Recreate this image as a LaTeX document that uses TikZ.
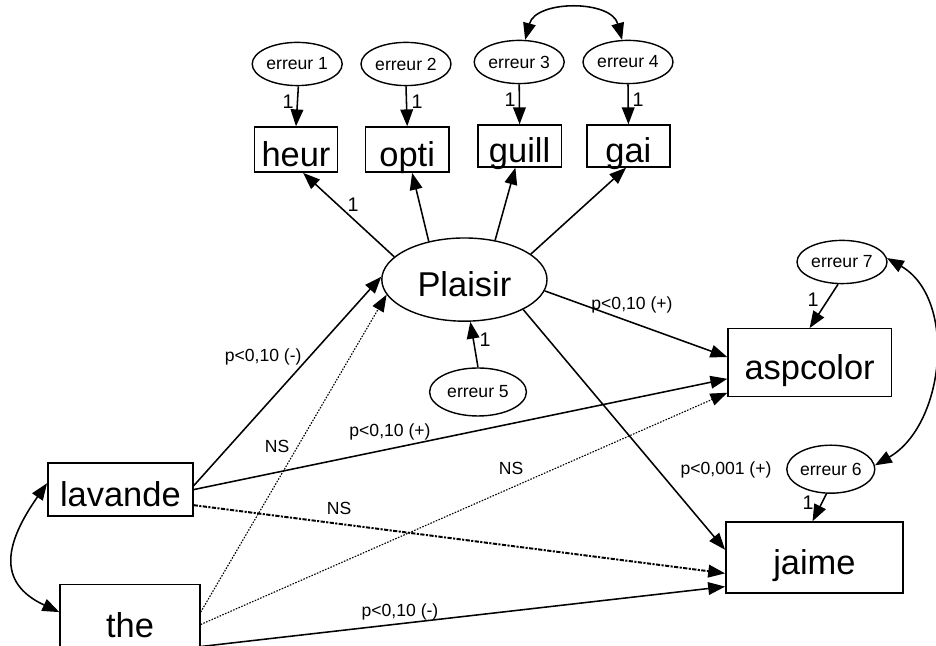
\documentclass[tikz,border=0pt]{standalone}
\usepackage{fontspec}
\setmainfont{Liberation Sans}
\usetikzlibrary{arrows.meta,shapes.geometric}

\begin{document}
\begin{tikzpicture}[
  obs/.style={draw, line width=1pt, inner sep=0pt, text height=24pt, text depth=0pt, font=\fontsize{24.5}{28}\selectfont},
  err/.style={draw, ellipse, line width=1pt, inner sep=0pt, minimum width=2.25cm, minimum height=1.08cm, font=\fontsize{12.5}{14}\selectfont},
  path/.style={line width=1.1pt, -{Triangle[length=12pt,width=9pt]}},
  ns/.style={path, densely dotted, line width=0.8pt},
  nsb/.style={path, dash pattern=on 3pt off 1pt on 1.5pt off 1pt, line width=1.4pt},
  cov/.style={line width=1.1pt, {Triangle[length=12pt,width=9pt]}-{Triangle[length=12pt,width=9pt]}},
  lbl/.style={font=\fontsize{12.5}{14}\selectfont},
  one/.style={font=\fontsize{14}{16}\selectfont}
]
%\draw[step=1cm,gray,very thin] (0,0) grid (23.4,16.15);
\useasboundingbox (0,0) rectangle (23.4,16.15);
\clip (0,0) rectangle (23.4,16.15);

% indicateurs de plaisir
\node[err] (err1) at (7.43,14.55) {erreur 1};
\node[err] (err2) at (10.15,14.55) {erreur 2};
\node[err] (err3) at (12.98,14.6) {erreur 3};
\node[err] (err4) at (15.7,14.6) {erreur 4};
\node[obs, minimum width=2.08cm, minimum height=1.13cm] (heur) at (7.4,12.41) {heur};
\node[obs, minimum width=2.08cm, minimum height=1.13cm] (opti) at (10.18,12.41) {opti};
\node[obs, minimum width=2.08cm, minimum height=1.05cm] (guill) at (12.99,12.5) {guill};
\node[obs, minimum width=2.08cm, minimum height=1.05cm] (gai) at (15.71,12.5) {gai};

\node[obs, ellipse, minimum width=4.13cm, minimum height=2.08cm] (plaisir) at (11.61,9.16) {Plaisir};
\node[err, minimum width=2.42cm, minimum height=1.2cm] (err5) at (11.95,6.35) {erreur 5};

% variables dependantes
\node[err] (err7) at (21.05,9.6) {erreur 7};
\node[obs, minimum width=4.08cm, minimum height=1.7cm] (aspcolor) at (20.24,7.08) {aspcolor};
\node[err, minimum width=2.2cm, minimum height=1.2cm] (err6) at (20.77,4.42) {erreur 6};
\node[obs, minimum width=4.43cm, minimum height=1.78cm] (jaime) at (20.36,2.21) {jaime};

% variables independantes
\node[obs, minimum width=3.63cm, minimum height=1.33cm] (lavande) at (3.01,3.91) {lavande};
\node[obs, minimum width=3.5cm, minimum height=1.8cm] (the) at (3.25,0.63) {the};

% erreurs
\draw[path] (err1.-87) -- (heur.north);
\draw[path] (err2.south) -- (opti.north);
\draw[path] (err3.south) -- (guill.north);
\draw[path] (err4.south) -- (gai.north);
\draw[path] (err5.north) -- (plaisir.-82);
\draw[path] (err7.-100) -- (aspcolor.north);
\draw[path] (err6.-100) -- (jaime.93);
\node[one] (u1) at (7.2,13.6) {1};
\node[one] (u2) at (10.43,13.6) {1};
\node[one] (u3) at (12.75,13.65) {1};
\node[one] (u4) at (15.95,13.65) {1};
\node[one] (u5) at (12.13,7.65) {1};
\node[one] (u7) at (20.33,8.65) {1};
\node[one] (u6) at (20.2,3.58) {1};

% mesure
\draw[path] (plaisir.162) -- (heur.-73);
\draw[path] (plaisir.133) -- (opti.-78);
\draw[path] (plaisir.52) -- (guill.-101);
\draw[path] (plaisir.21) -- (gai.-96);
\node[one] (u0) at (8.83,11.03) {1};

% effets
\draw[path] (plaisir.-8) -- (aspcolor.176);
\draw[path] (plaisir.-27) -- (jaime.175);
\draw[path] (lavande.3) -- (plaisir.178);
\draw[ns] (the.7) -- (plaisir.191);
\draw[path] (lavande.0) -- (aspcolor.191);
\draw[nsb] (lavande.-12) -- (jaime.190);
\draw[ns] (the.-3) -- (aspcolor.200);
\draw[path] (the.-20) -- (jaime.198);

\node[lbl] (p1) at (6.58,7.23) {p<0,10 (-)};
\node[lbl] (p2) at (6.93,4.98) {NS};
\node[lbl] (p3) at (9.75,5.35) {p<0,10 (+)};
\node[lbl] (p4) at (8.48,3.43) {NS};
\node[lbl] (p5) at (12.78,4.43) {NS};
\node[lbl] (p6) at (10.0,0.85) {p<0,10 (-)};
\node[lbl] (p7) at (15.8,8.53) {p<0,10 (+)};
\node[lbl] (p8) at (18.15,4.4) {p<0,001 (+)};

% covariances
\draw[cov] (err3.75) to[out=75,in=105,looseness=1.1] (err4.105);
\draw[cov] (err7.5) to[out=-30,in=30] (err6.5);
\draw[cov] (lavande.175) to[out=-125,in=155,looseness=1.4] (the.173);
\end{tikzpicture}
\end{document}
